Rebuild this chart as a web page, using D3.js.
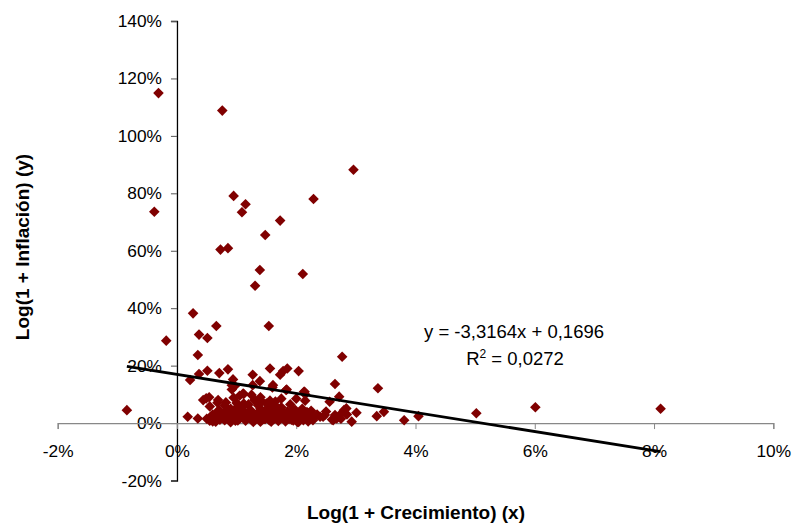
<!DOCTYPE html>
<html><head><meta charset="utf-8">
<script src="https://cdn.jsdelivr.net/npm/d3@7"></script>
<style>body{margin:0;background:#fff}svg{display:block;font-family:"Liberation Sans",Arial,sans-serif}</style>
</head><body>
<svg id="c" width="793" height="524"></svg>
<script>
// Data in percent units (x = Log(1+Crecimiento), y = Log(1+Inflación))
const xTicks = [-0.02, 0, 0.02, 0.04, 0.06, 0.08, 0.10];
const yTicks = [-0.2, 0, 0.2, 0.4, 0.6, 0.8, 1.0, 1.2, 1.4];
const xTitle = "Log(1 + Crecimiento) (x)";
const yTitle = "Log(1 + Inflación) (y)";
const slope = -3.3164, intercept = 0.1696;
const eqText = "y = -3,3164x + 0,1696";
const r2Text = " = 0,0272";
const xs = [
 -0.31,0.76,2.96,0.95,2.29,-0.38,1.15,1.09,1.73,1.48,0.73,0.855,1.39,2.11,1.31,
 0.27,-0.18,0.66,1.54,0.37,0.51,0.35,2.77,-0.84,0.51,0.37,0.22,0.71,0.855,0.94,0.92,0.97,1.12,1.27,1.39,1.56,1.60,1.73,1.78,1.85,2.04,1.84,2.14,2.65,2.72,2.56,2.84,
 0.18,0.35,0.44,0.54,0.55,0.69,3.37,3.01,2.80,2.93,3.35,3.47,3.81,4.05,5.02,6.01,8.11,
 0.49,0.68,1.11,1.27,1.61,1.83,2.13,2.15,0.92,
 2.20,2.29,2.40,2.48,2.68,2.76,2.62,
 0.50,0.60,0.65,0.70,0.75,0.80,0.80,0.85,0.90,0.90,0.95,1.00,1.00,1.05,1.10,1.10,1.15,1.20,1.20,1.25,1.30,1.30,1.35,1.40,1.40,1.45,1.50,1.50,1.55,1.60,1.60,1.65,1.70,1.70,1.75,1.80,1.85,1.90,1.90,1.95,2.00,2.00,2.05,2.10,2.15,2.20,2.25,2.30,2.35,2.45,2.50,2.60,2.65,2.75,2.85,0.55,0.60,
 1.05,1.40,1.75,0.95,1.25,2.15,0.62,0.88,1.18,1.48,1.68,1.98,2.28,0.72,1.02,1.32,1.62,1.92,2.22,1.12,1.42,1.72,2.02,0.82,1.52,
 0.58,0.72,0.78,0.88,0.98,1.08,1.08,1.18,1.22,1.28,1.34,1.38,1.44,1.46,1.52,1.58,1.58,1.64,1.66,1.72,1.78,1.82,1.88,1.94,1.98,2.04,2.08,2.12,2.18,2.24,0.86,1.02,1.12,1.36,1.56,0.68
];
const ys = [
 114.9,108.8,88.2,79.1,78.0,73.6,76.2,73.4,70.5,65.5,60.4,60.9,53.3,51.9,47.8,
 38.2,28.7,33.8,33.8,30.8,29.6,23.7,23.1,4.5,18.2,17.1,15.0,17.4,18.7,15.2,11.7,12.9,10.1,16.8,14.6,19.0,12.4,16.8,18.1,19.0,18.1,11.7,10.9,13.6,9.2,7.4,5.1,
 2.2,1.6,8.0,9.0,0.8,8.0,12.1,3.6,4.5,0.5,2.4,3.9,1.0,2.4,3.4,5.5,5.0,
 8.6,7.1,10.3,13.2,13.2,11.5,10.9,10.0,13.2,
 3.4,2.0,2.2,2.8,1.6,3.4,1.0,
 1.5,3.0,0.5,4.5,2.0,6.0,1.0,3.5,5.0,0.3,2.5,4.0,7.0,1.5,3.0,5.5,0.8,2.2,6.5,4.2,1.2,8.0,3.0,5.0,0.5,2.0,6.8,3.8,1.0,4.5,2.5,7.5,0.7,3.2,5.5,1.8,4.0,2.6,6.5,0.9,3.5,8.5,1.6,5.0,2.8,0.6,4.3,1.8,3.0,2.2,4.0,1.2,2.8,1.5,3.0,5.8,0.6,
 9.5,9.0,8.5,8.8,9.8,7.8,2.4,1.8,3.6,1.4,2.0,4.6,1.0,3.8,0.9,2.6,6.0,1.2,3.3,6.2,7.6,4.8,0.4,7.2,5.2,
 2.4,1.2,3.2,2.0,0.8,2.8,4.6,1.8,3.4,0.4,2.2,4.0,3.0,1.4,2.6,0.5,3.6,1.6,5.8,2.2,3.8,0.6,1.4,4.4,2.0,0.4,3.0,1.0,3.8,1.4,4.6,5.8,6.8,6.2,7.8,3.8
];

const svg = d3.select("#c");
const x = d3.scaleLinear().domain([-0.02, 0.10]).range([57.7, 773.3]);
const y = d3.scaleLinear().domain([-0.2, 1.4]).range([480.5, 21]);
const pct = d => Math.round(d * 100) + "%";
const FF = "Liberation Sans, Arial, sans-serif";

// y axis at x = 0
const gy = svg.append("g").attr("transform", `translate(${x(0)},0)`)
  .call(d3.axisLeft(y).tickValues(yTicks).tickSize(6).tickPadding(9).tickFormat(pct));
gy.select(".domain").attr("stroke", "#000").attr("stroke-width", 1.3);
gy.selectAll(".tick line").attr("stroke", "#555");
gy.selectAll("text").attr("font-size", 17.3).attr("fill", "#000").attr("font-family", FF);

// x axis at y = 0
const gx = svg.append("g").attr("transform", `translate(0,${y(0)})`)
  .call(d3.axisBottom(x).tickValues(xTicks).tickSize(6).tickPadding(15.5).tickFormat(pct));
gx.select(".domain").attr("stroke", "#888").attr("stroke-width", 1.3);
gx.selectAll(".tick line").attr("stroke", "#888");
gx.selectAll("text").attr("font-size", 17.3).attr("fill", "#000").attr("font-family", FF);

// points
const pts = xs.map((v, i) => ({ x: v / 100, y: ys[i] / 100 }));
const r = 5.3;
svg.append("g").selectAll("path").data(pts).join("path")
  .attr("d", d => `M${x(d.x)},${y(d.y) - r}L${x(d.x) + r},${y(d.y)}L${x(d.x)},${y(d.y) + r}L${x(d.x) - r},${y(d.y)}Z`)
  .attr("fill", "#800000");

// trend line from min x to max x
const xmin = d3.min(pts, d => d.x), xmax = d3.max(pts, d => d.x);
svg.append("line")
  .attr("x1", x(xmin)).attr("y1", y(slope * xmin + intercept))
  .attr("x2", x(xmax)).attr("y2", y(slope * xmax + intercept))
  .attr("stroke", "#000").attr("stroke-width", 2.8);

// equation
svg.append("text").attr("x", 514).attr("y", 338).attr("text-anchor", "middle")
  .attr("font-size", 18.5).text(eqText);
const r2 = svg.append("text").attr("x", 515).attr("y", 365).attr("text-anchor", "middle").attr("font-size", 18.5);
r2.append("tspan").text("R");
r2.append("tspan").attr("font-size", 12).attr("dy", -7).text("2");
r2.append("tspan").attr("dy", 7).text(r2Text);

// titles
svg.append("text").attr("x", 416).attr("y", 519).attr("text-anchor", "middle")
  .attr("font-weight", "bold").attr("font-size", 19).text(xTitle);
svg.append("text").attr("transform", "translate(29,247) rotate(-90)").attr("text-anchor", "middle")
  .attr("font-weight", "bold").attr("font-size", 19).text(yTitle);
</script>
</body></html>
